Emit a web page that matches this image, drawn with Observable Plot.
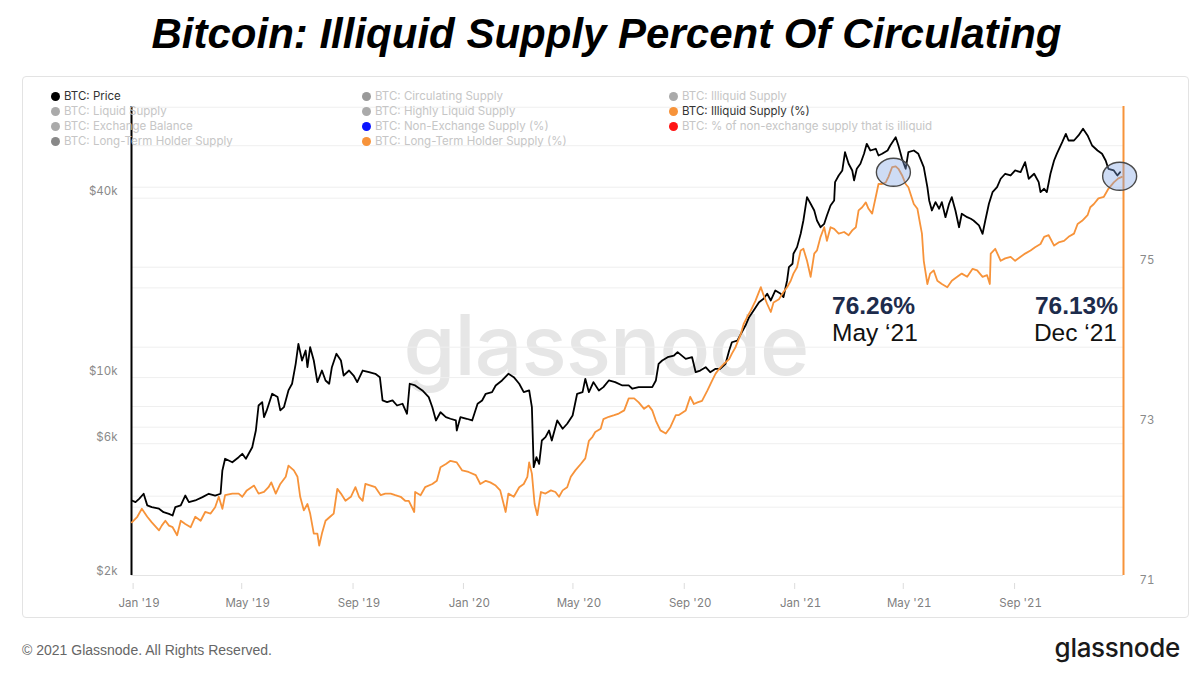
<!DOCTYPE html>
<html><head><meta charset="utf-8">
<script src="https://cdn.jsdelivr.net/npm/d3@7"></script>
<script src="https://cdn.jsdelivr.net/npm/@observablehq/plot@0.6"></script>
<style>
html,body{margin:0;padding:0;background:#fff;overflow:hidden;}
#page{position:relative;width:1200px;height:673px;overflow:hidden;background:#fff;}
.abs{position:absolute;white-space:nowrap;}
#title{left:0;width:1213px;text-align:center;top:13px;font:italic bold 42px/1 "Liberation Sans",Arial,sans-serif;color:#000;}
#frame{left:22px;top:76px;width:1167px;height:542px;border:1px solid #e3e3e3;border-radius:4px;box-sizing:border-box;}
#watermark{left:0;width:1212px;text-align:center;top:303px;font:500 84px/1 Inter,sans-serif;color:#e6e6e6;letter-spacing:-1px;}
.layer{position:absolute;left:0;top:0;}
.leg{position:absolute;display:flex;align-items:center;font:11.5px/12px Inter,sans-serif;white-space:nowrap;}
.dot{width:9px;height:9px;border-radius:50%;margin-right:4.5px;flex:none;}
.ann{font:24.5px/1 "Liberation Sans",Arial,sans-serif;}
#foot{left:22px;top:643px;font:14px/1 "Liberation Sans",Arial,sans-serif;color:#666;}
#logo{right:20px;top:635px;font:500 26px/1 Inter,sans-serif;color:#1a1a1a;letter-spacing:-0.3px;}
</style></head>
<body><div id="page">
<div class="abs" id="title">Bitcoin: Illiquid Supply Percent Of Circulating</div>
<div class="abs" id="frame"></div>
<div class="abs" id="watermark">glassnode</div>
</div>
<script>
// ---- BTC price (USD) ----
const priceDates = ["2018-12-24","2018-12-28","2019-01-01","2019-01-06","2019-01-10","2019-01-15","2019-01-23","2019-01-28","2019-02-03","2019-02-07","2019-02-10","2019-02-16","2019-02-21","2019-02-25","2019-03-04","2019-03-12","2019-03-19","2019-03-26","2019-04-01","2019-04-03","2019-04-06","2019-04-14","2019-04-21","2019-04-25","2019-04-29","2019-05-06","2019-05-10","2019-05-13","2019-05-17","2019-05-19","2019-05-22","2019-05-28","2019-06-03","2019-06-06","2019-06-10","2019-06-15","2019-06-19","2019-06-23","2019-06-26","2019-06-30","2019-07-04","2019-07-06","2019-07-09","2019-07-13","2019-07-17","2019-07-22","2019-07-26","2019-07-30","2019-08-02","2019-08-07","2019-08-12","2019-08-15","2019-08-21","2019-08-26","2019-08-30","2019-09-05","2019-09-12","2019-09-19","2019-09-24","2019-09-27","2019-10-02","2019-10-08","2019-10-13","2019-10-19","2019-10-24","2019-10-27","2019-11-02","2019-11-10","2019-11-17","2019-11-21","2019-11-25","2019-11-30","2019-12-06","2019-12-11","2019-12-17","2019-12-18","2019-12-22","2019-12-29","2020-01-04","2020-01-10","2020-01-15","2020-01-19","2020-01-26","2020-01-30","2020-02-06","2020-02-13","2020-02-19","2020-02-25","2020-03-01","2020-03-07","2020-03-10","2020-03-12","2020-03-15","2020-03-18","2020-03-21","2020-03-25","2020-03-29","2020-04-01","2020-04-07","2020-04-13","2020-04-18","2020-04-24","2020-04-29","2020-05-05","2020-05-08","2020-05-12","2020-05-17","2020-05-23","2020-05-28","2020-06-03","2020-06-10","2020-06-18","2020-06-25","2020-06-29","2020-07-06","2020-07-14","2020-07-21","2020-07-25","2020-07-28","2020-08-01","2020-08-07","2020-08-14","2020-08-18","2020-08-27","2020-09-03","2020-09-07","2020-09-12","2020-09-18","2020-09-23","2020-09-29","2020-10-04","2020-10-10","2020-10-14","2020-10-17","2020-10-23","2020-10-27","2020-11-01","2020-11-05","2020-11-10","2020-11-16","2020-11-21","2020-11-25","2020-11-29","2020-12-04","2020-12-10","2020-12-13","2020-12-17","2020-12-19","2020-12-23","2020-12-24","2020-12-28","2021-01-01","2021-01-04","2021-01-08","2021-01-12","2021-01-16","2021-01-19","2021-01-23","2021-01-27","2021-01-30","2021-02-03","2021-02-07","2021-02-08","2021-02-12","2021-02-16","2021-02-19","2021-02-23","2021-02-27","2021-03-01","2021-03-04","2021-03-08","2021-03-12","2021-03-15","2021-03-19","2021-03-25","2021-03-28","2021-04-01","2021-04-07","2021-04-10","2021-04-16","2021-04-19","2021-04-23","2021-04-27","2021-04-30","2021-05-06","2021-05-11","2021-05-17","2021-05-21","2021-05-23","2021-05-26","2021-05-30","2021-06-03","2021-06-06","2021-06-10","2021-06-14","2021-06-17","2021-06-21","2021-06-25","2021-06-28","2021-07-04","2021-07-08","2021-07-11","2021-07-17","2021-07-21","2021-07-24","2021-07-28","2021-08-01","2021-08-06","2021-08-10","2021-08-15","2021-08-21","2021-08-26","2021-09-01","2021-09-06","2021-09-10","2021-09-16","2021-09-21","2021-09-23","2021-09-27","2021-09-30","2021-10-04","2021-10-08","2021-10-11","2021-10-17","2021-10-21","2021-10-24","2021-10-30","2021-11-04","2021-11-09","2021-11-14","2021-11-19","2021-11-25","2021-11-30","2021-12-04","2021-12-07","2021-12-13","2021-12-17","2021-12-20"];
const priceValues = [3870,3820,3920,4075,3725,3675,3630,3535,3490,3445,3675,3725,4020,3820,3870,3970,4075,4020,4075,4880,5340,5200,5405,5550,5340,5840,6645,8060,8270,7365,7760,8825,8600,7760,7955,9055,9535,11120,12975,11410,12330,10835,12650,11410,9655,10560,9780,9535,10835,12020,11410,10160,10560,10160,9655,10560,10425,10300,10030,8380,8270,8380,8060,8170,7560,9535,9410,9055,8600,7955,7180,7650,7365,7275,7180,6645,7365,7275,7180,8170,8380,8825,8935,9410,9780,10300,10030,9535,8935,9055,7955,5005,5405,5135,6150,6310,6645,6150,7180,6735,7000,7460,8825,8935,9905,8935,9655,9055,9290,9780,9655,9410,9410,9175,9290,9290,9290,9780,11120,11410,11705,11860,12170,11560,11705,10425,10560,10835,10425,10700,10700,11120,12330,13140,13310,14020,14950,15950,16800,17910,18385,19110,18145,19600,19110,18615,21180,23480,24100,26030,27400,30380,33665,40310,38310,36370,33665,31960,32810,34995,37805,39295,45265,47670,49545,57065,52170,49545,45865,50200,52170,56360,60885,57820,58585,55630,56360,57820,60090,64060,60090,54230,50200,57065,57820,56360,50820,43550,39295,36370,38785,36855,38785,34535,38310,40310,36370,31960,35455,34535,34110,33665,32400,30380,33665,38310,41900,43550,46470,48300,47670,49545,48900,52820,46470,48300,45265,41900,43015,41900,48300,53520,56360,61645,65765,62460,62460,64930,68405,64930,60090,57820,56360,53520,50200,49545,47670,48900];

// ---- BTC: Illiquid Supply (%) ----
const illiquidDates = ["2018-12-24","2018-12-30","2019-01-04","2019-01-10","2019-01-15","2019-01-23","2019-01-26","2019-01-30","2019-02-03","2019-02-07","2019-02-12","2019-02-16","2019-02-21","2019-02-27","2019-03-04","2019-03-10","2019-03-15","2019-03-21","2019-03-26","2019-03-30","2019-04-03","2019-04-06","2019-04-14","2019-04-21","2019-04-25","2019-04-30","2019-05-08","2019-05-13","2019-05-19","2019-05-24","2019-05-27","2019-06-01","2019-06-06","2019-06-12","2019-06-15","2019-06-21","2019-06-25","2019-06-28","2019-07-02","2019-07-06","2019-07-09","2019-07-13","2019-07-17","2019-07-19","2019-07-22","2019-07-26","2019-07-31","2019-08-04","2019-08-08","2019-08-12","2019-08-17","2019-08-23","2019-08-28","2019-09-01","2019-09-05","2019-09-08","2019-09-14","2019-09-19","2019-09-25","2019-09-30","2019-10-06","2019-10-11","2019-10-17","2019-10-22","2019-10-26","2019-11-01","2019-11-02","2019-11-08","2019-11-13","2019-11-21","2019-11-26","2019-11-30","2019-12-06","2019-12-11","2019-12-18","2019-12-24","2019-12-31","2020-01-08","2020-01-13","2020-01-19","2020-01-24","2020-01-30","2020-02-04","2020-02-10","2020-02-13","2020-02-19","2020-02-25","2020-03-01","2020-03-05","2020-03-07","2020-03-10","2020-03-13","2020-03-16","2020-03-20","2020-03-25","2020-03-31","2020-04-05","2020-04-09","2020-04-13","2020-04-18","2020-04-22","2020-04-27","2020-05-03","2020-05-08","2020-05-12","2020-05-16","2020-05-19","2020-05-25","2020-05-28","2020-06-03","2020-06-09","2020-06-14","2020-06-20","2020-06-25","2020-07-01","2020-07-06","2020-07-12","2020-07-17","2020-07-21","2020-07-25","2020-07-30","2020-08-05","2020-08-10","2020-08-16","2020-08-19","2020-08-27","2020-09-01","2020-09-05","2020-09-09","2020-09-14","2020-09-20","2020-09-25","2020-09-29","2020-10-03","2020-10-08","2020-10-14","2020-10-17","2020-10-21","2020-10-27","2020-10-30","2020-11-03","2020-11-07","2020-11-12","2020-11-18","2020-11-21","2020-11-25","2020-11-29","2020-12-02","2020-12-08","2020-12-13","2020-12-17","2020-12-21","2020-12-24","2020-12-28","2021-01-01","2021-01-04","2021-01-08","2021-01-12","2021-01-16","2021-01-19","2021-01-23","2021-01-27","2021-01-30","2021-02-03","2021-02-07","2021-02-12","2021-02-18","2021-02-23","2021-02-27","2021-03-03","2021-03-06","2021-03-10","2021-03-14","2021-03-17","2021-03-21","2021-03-25","2021-03-28","2021-04-01","2021-04-05","2021-04-08","2021-04-12","2021-04-16","2021-04-19","2021-04-23","2021-04-27","2021-04-30","2021-05-06","2021-05-10","2021-05-13","2021-05-15","2021-05-17","2021-05-21","2021-05-24","2021-05-28","2021-06-01","2021-06-06","2021-06-12","2021-06-17","2021-06-23","2021-06-28","2021-07-04","2021-07-10","2021-07-15","2021-07-21","2021-07-26","2021-07-29","2021-07-30","2021-08-04","2021-08-10","2021-08-15","2021-08-21","2021-08-26","2021-09-01","2021-09-06","2021-09-12","2021-09-17","2021-09-23","2021-09-27","2021-10-02","2021-10-08","2021-10-13","2021-10-19","2021-10-24","2021-10-30","2021-11-03","2021-11-08","2021-11-14","2021-11-17","2021-11-21","2021-11-26","2021-12-02","2021-12-07","2021-12-13","2021-12-18","2021-12-22"];
const illiquidValues = [71.81,71.88,71.98,71.88,71.81,71.71,71.77,71.83,71.77,71.75,71.65,71.83,71.79,71.75,71.88,71.83,71.94,71.92,72.00,72.13,71.98,72.15,72.17,72.17,72.13,72.21,72.27,72.17,72.19,72.25,72.31,72.17,72.29,72.38,72.52,72.46,72.38,72.13,71.96,72.04,71.92,71.67,71.67,71.52,71.67,71.83,71.88,71.92,72.23,72.17,72.08,72.13,72.25,72.13,72.08,72.29,72.27,72.25,72.15,72.17,72.17,72.15,72.13,72.08,72.08,71.94,72.19,72.15,72.25,72.29,72.33,72.50,72.54,72.58,72.56,72.46,72.44,72.40,72.29,72.33,72.31,72.27,72.21,71.94,72.17,72.13,72.25,72.29,72.38,72.56,72.42,72.04,71.90,72.19,72.17,72.21,72.19,72.13,72.21,72.25,72.38,72.46,72.54,72.61,72.83,72.88,72.94,72.98,73.10,73.13,73.15,73.17,73.21,73.36,73.36,73.31,73.23,73.27,73.21,73.08,72.96,72.92,73.00,73.15,73.15,73.21,73.38,73.29,73.31,73.33,73.46,73.58,73.67,73.73,73.79,73.85,73.92,74.00,74.17,74.29,74.38,74.46,74.58,74.75,74.65,74.54,74.44,74.56,74.60,74.69,74.75,74.83,74.92,75.00,75.21,75.23,75.08,74.88,75.17,75.21,75.38,75.50,75.33,75.50,75.48,75.42,75.44,75.40,75.46,75.50,75.71,75.75,75.81,75.73,75.67,75.88,76.04,76.04,76.06,76.13,76.25,76.26,76.23,76.15,76.04,76.00,75.79,75.73,75.54,75.42,75.08,74.79,74.92,74.96,74.83,74.79,74.75,74.83,74.88,74.92,74.88,74.98,74.96,74.88,74.90,74.79,75.17,75.23,75.08,75.11,75.13,75.08,75.13,75.17,75.21,75.25,75.29,75.38,75.40,75.27,75.31,75.33,75.38,75.42,75.54,75.58,75.65,75.75,75.79,75.86,75.88,75.98,76.06,76.11,76.13];

// ---- axes / ticks ----
const xTickDates = ["2019-01-01","2019-05-01","2019-09-01","2020-01-01","2020-05-01","2020-09-01","2021-01-01","2021-05-01","2021-09-01"];
const xTickLabels = ["Jan '19","May '19","Sep '19","Jan '20","May '20","Sep '20","Jan '21","May '21","Sep '21"];
const priceTickValues = [2134, 6000, 10000, 40000];
const priceTickLabels = ["$2k", "$6k", "$10k", "$40k"];
const priceGridValues = [4000, 6000, 8000, 10000, 20000, 40000, 60000];
const illiquidTickValues = [71, 73, 75];
const illiquidTickLabels = ["71", "73", "75"];
const illiquidGridValues = [72, 73, 74, 75, 76, 77];

// ---- annotations ----
const highlightDates = ["2021-04-14", "2021-12-20"];
const highlightValues = [76.18, 76.13];
const annotationValues = ["76.26%", "76.13%"];
const annotationLabels = ["May \u201821", "Dec \u201821"];

// ---- legend ----
const legendNames = ["BTC: Price","BTC: Liquid Supply","BTC: Exchange Balance","BTC: Long-Term Holder Supply",
  "BTC: Circulating Supply","BTC: Highly Liquid Supply","BTC: Non-Exchange Supply (%)","BTC: Long-Term Holder Supply (%)",
  "BTC: Illiquid Supply","BTC: Illiquid Supply (%)","BTC: % of non-exchange supply that is illiquid"];
const legendColors = ["#000","#aaa","#aaa","#888","#999","#aaa","#0a14ff","#f7933a","#aaa","#f7933a","#ff1414"];
const legendActive = [true,false,false,false,false,false,false,false,false,true,false];

const priceData = priceDates.map((d, i) => ({date: new Date(d), value: priceValues[i]}));
const illiquidData = illiquidDates.map((d, i) => ({date: new Date(d), value: illiquidValues[i]}));
const xLabelOf = new Map(xTickDates.map((d, i) => [+new Date(d), xTickLabels[i]]));
const priceLabelOf = new Map(priceTickValues.map((v, i) => [v, priceTickLabels[i]]));
const illiquidLabelOf = new Map(illiquidTickValues.map((v, i) => [v, illiquidTickLabels[i]]));
const xTicks = xTickDates.map(d => new Date(d));

const ORANGE = "#f7933a";
const xDomain = [new Date("2018-12-23T14:00:00Z"), new Date("2021-12-23T17:00:00Z")];
const common = {
  width: 1200, height: 673,
  marginLeft: 131, marginRight: 77, marginTop: 106, marginBottom: 98,
  style: {background: "transparent", overflow: "visible", fontFamily: "Inter, sans-serif", fontSize: "11.5px"},
  x: {type: "utc", domain: xDomain, axis: null}
};
const priceY = {type: "log", domain: [2167, 81224], axis: null};
const illiqY = {type: "linear", domain: [71.146, 77.009], axis: null};

const page = document.getElementById("page");
function addLayer(svg) { svg.classList.add("layer"); page.appendChild(svg); }

// layer 1: right-scale gridlines
addLayer(Plot.plot({...common, y: illiqY, marks: [
  Plot.ruleY(illiquidGridValues, {stroke: "#efefef", strokeWidth: 1})
]}));

// layer 2: price
addLayer(Plot.plot({...common, y: priceY, marks: [
  Plot.ruleY(priceGridValues, {stroke: "#efefef", strokeWidth: 1}),
  Plot.ruleY([priceY.domain[0]], {stroke: "#e4e4e4", strokeWidth: 1}),
  Plot.line(priceData, {x: "date", y: "value", stroke: "#000", strokeWidth: 1.8}),
  Plot.ruleX([xDomain[0]], {stroke: "#000", strokeWidth: 2}),
  Plot.axisY(priceTickValues, {anchor: "left", tickSize: 0, tickPadding: 14, dy: -6.5, color: "#8a8a8a", fontSize: 11.5, label: null, tickFormat: d => priceLabelOf.get(d)}),
  Plot.axisX(xTicks, {anchor: "bottom", tickSize: 6, dy: 8, dx: -6, color: "#dcdcdc", label: null, tickFormat: () => ""}),
  Plot.axisX(xTicks, {anchor: "bottom", tickSize: 0, tickPadding: 23, color: "#808080", fontSize: 11.5, label: null, tickFormat: d => xLabelOf.get(+d)})
]}));

// layer 3: illiquid supply %
addLayer(Plot.plot({...common, y: illiqY, marks: [
  Plot.line(illiquidData, {x: "date", y: "value", stroke: ORANGE, strokeWidth: 1.8}),
  Plot.ruleX([xDomain[1]], {stroke: ORANGE, strokeWidth: 2}),
  Plot.axisY(illiquidTickValues, {anchor: "right", tickSize: 0, tickPadding: 16, dy: -6.5, color: "#8a8a8a", fontSize: 11.5, label: null, tickFormat: d => illiquidLabelOf.get(d)}),
  (index, scales) => {
    const g = d3.create("svg:g");
    highlightDates.forEach((d, i) => {
      g.append("ellipse")
        .attr("cx", scales.x(new Date(d))).attr("cy", scales.y(highlightValues[i]))
        .attr("rx", 17).attr("ry", 14)
        .attr("fill", "#7fa3e6").attr("fill-opacity", 0.38)
        .attr("stroke", "#4a4a4a").attr("stroke-width", 1.4);
    });
    return g.node();
  }
]}));

// legend
const legendCols = [{dot: 55, n: 4}, {dot: 366, n: 4}, {dot: 673, n: 3}];
let k = 0;
legendCols.forEach(col => {
  for (let r = 0; r < col.n; r++, k++) {
    const el = document.createElement("div");
    el.className = "leg";
    el.style.left = (col.dot - 4.5) + "px";
    el.style.top = (96 + r * 15 - 6) + "px";
    el.style.color = legendActive[k] ? "#333" : "#c6c6c6";
    const dot = document.createElement("span");
    dot.className = "dot"; dot.style.background = legendColors[k];
    el.appendChild(dot);
    el.appendChild(document.createTextNode(legendNames[k]));
    page.appendChild(el);
  }
});

// annotations
function addText(text, css) {
  const el = document.createElement("div");
  el.className = "abs ann"; el.textContent = text;
  Object.assign(el.style, css); page.appendChild(el);
}
addText(annotationValues[0], {left: "832px", top: "294px", fontWeight: "bold", color: "#1d2c4c"});
addText(annotationLabels[0], {left: "832px", top: "321px", color: "#111"});
addText(annotationValues[1], {right: "82px", top: "294px", fontWeight: "bold", color: "#1d2c4c", textAlign: "right"});
addText(annotationLabels[1], {right: "83px", top: "321px", color: "#111", textAlign: "right"});

// footer
const foot = document.createElement("div"); foot.className = "abs"; foot.id = "foot";
foot.textContent = "\u00A9 2021 Glassnode. All Rights Reserved."; page.appendChild(foot);
const logo = document.createElement("div"); logo.className = "abs"; logo.id = "logo";
logo.textContent = "glassnode"; page.appendChild(logo);
</script>
</body></html>
